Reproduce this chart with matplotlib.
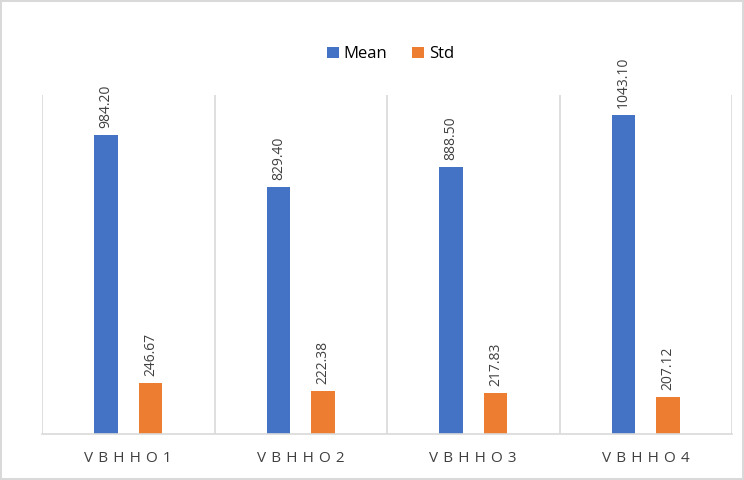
import matplotlib.pyplot as plt
import numpy as np

categories = ['VBHHO1', 'VBHHO2', 'VBHHO3', 'VBHHO4']
mean = [984.20, 829.40, 888.50, 1043.10]
std = [246.67, 222.38, 217.83, 207.12]

plt.rcParams['font.family'] = ['Open Sans', 'DejaVu Sans']

fig = plt.figure(figsize=(7.44, 4.8), dpi=100)
fig.patch.set_edgecolor('#D9D9D9')
fig.patch.set_linewidth(1.5)
ax = fig.add_axes([42 / 744, 1 - 434 / 480, 690 / 744, 339 / 480])

x = np.arange(len(categories))
w = 0.137
b1 = ax.bar(x - 0.13, mean, w, color='#4472C4', label='Mean')
b2 = ax.bar(x + 0.13, std, w, color='#ED7D31', label='Std')

for bars in (b1, b2):
    for b in bars:
        ax.annotate(f'{b.get_height():.2f}', (b.get_x() + b.get_width() / 2, b.get_height()),
                    xytext=(0, 5), textcoords='offset points', rotation=90,
                    ha='center', va='bottom', fontsize=10, color='#404040')

# 坐标轴下限不是0
ax.set_xlim(-0.5, len(categories) - 0.5)
ax.set_ylim(96, 1102)
ax.set_yticks([])
ax.set_xticks(x)
ax.set_xticklabels(['\u2004'.join(c) for c in categories], fontsize=11, color='#404040')
ax.tick_params(axis='x', length=0, pad=12)
# 类别分隔线
for s in np.arange(-0.5, len(categories), 1):
    ax.axvline(s, color='#D9D9D9', lw=1.2)
for sp in ['top', 'right', 'left']:
    ax.spines[sp].set_visible(False)
ax.spines['bottom'].set_color('#D9D9D9')
ax.spines['bottom'].set_linewidth(1.2)

fig.legend(loc='upper center', bbox_to_anchor=(0.525, 0.935), ncol=2, frameon=False,
           fontsize=12, handlelength=0.7, handleheight=0.7, columnspacing=1.5, handletextpad=0.3)

fig.savefig('out.png')
